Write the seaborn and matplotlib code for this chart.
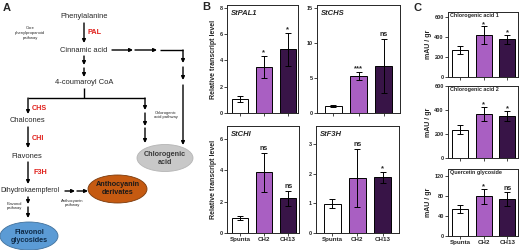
import matplotlib
matplotlib.use("Agg")
import matplotlib.pyplot as plt
from matplotlib.patches import Ellipse
import numpy as np
import pandas as pd
import seaborn as sns

# Data
groups = ["Spunta", "CH2", "CH13"]
colors = ["#ffffff", "#b14fd2", "#3c0b50"]

pal1_mean = [1.05, 3.5, 4.85]
pal1_err = [0.22, 0.85, 1.25]
pal1_sig = ["", "*", "*"]

chs_mean = [1.0, 5.35, 6.75]
chs_err = [0.2, 0.6, 3.9]
chs_sig = ["", "***", "ns"]

chi_mean = [0.95, 3.85, 2.2]
chi_err = [0.1, 1.25, 0.48]
chi_sig = ["", "ns", "ns"]

f3h_mean = [0.98, 1.85, 1.87]
f3h_err = [0.15, 0.99, 0.18]
f3h_sig = ["", "ns", "*"]

ca1_mean = [275, 420, 378]
ca1_err = [40, 88, 45]
ca1_sig = ["", "*", "*"]

ca2_mean = [235, 369, 349]
ca2_err = [37, 57, 42]
ca2_sig = ["", "*", "*"]

qg_mean = [54.5, 78.5, 73]
qg_err = [8, 15, 14]
qg_sig = ["", "*", "ns"]

sns.set_style("ticks")
plt.rcParams['font.family'] = ['Liberation Sans', 'DejaVu Sans']

W, H = 520, 250
fig = plt.figure(figsize=(5.2, 2.5), dpi=100)


def px_axes(x0, y0, x1, y1):
    return fig.add_axes([x0 / W, 1 - y1 / H, (x1 - x0) / W, (y1 - y0) / H])


def bar_panel(ax, mean, err, sig, title, ymax, yticks, xlim, italic=True,
              xlabels=False, ylabel=None):
    df = pd.DataFrame({"group": groups, "value": mean})
    sns.barplot(data=df, x="group", y="value", hue="group", palette=colors,
                order=groups, hue_order=groups, edgecolor="black",
                linewidth=0.7, width=0.68, legend=False, ax=ax)
    ax.errorbar(np.arange(3), mean, yerr=err, fmt="none", ecolor="black",
                elinewidth=0.7, capsize=2.5, capthick=0.7)
    for i, s in enumerate(sig):
        if s:
            if s == "ns":
                ax.text(i, mean[i] + err[i] + ymax * 0.01, s, ha="center",
                        va="bottom", fontsize=5, fontweight="bold")
            else:
                ax.text(i, mean[i] + err[i] + ymax * 0.03, s, ha="center",
                        va="center", fontsize=5.5, fontweight="bold")
    ax.set_ylim(0, ymax)
    ax.set_xlim(*xlim)
    ax.set_yticks(yticks)
    ax.set_xlabel("")
    ax.set_ylabel(ylabel if ylabel else "", fontsize=5, fontweight="bold",
                  labelpad=2)
    ax.tick_params(direction="out", length=2, width=0.6, labelsize=4, pad=1)
    for lab in ax.get_yticklabels():
        lab.set_fontweight("bold")
    ax.set_xticks(range(3))
    if xlabels:
        ax.set_xticklabels(groups, fontsize=4.5, fontweight="bold")
    else:
        ax.set_xticklabels([])
    for sp in ax.spines.values():
        sp.set_visible(True)
        sp.set_linewidth(0.7)
    ax.text(0.05 if italic else 0.03, 0.95 if italic else 0.99, title,
            transform=ax.transAxes, ha="left", va="top",
            fontsize=5.5 if italic else 3.9, fontweight="bold",
            style="italic" if italic else "normal")


# Panel B
ax = px_axes(227, 5, 298, 113)
bar_panel(ax, pal1_mean, pal1_err, pal1_sig, "StPAL1", 8.2, [0, 2, 4, 6, 8],
          (-0.54, 2.42), ylabel="Relative transcript level")
ax = px_axes(317, 5, 400, 113)
bar_panel(ax, chs_mean, chs_err, chs_sig, "StCHS", 15.5, [0, 5, 10, 15],
          (-0.65, 2.65))
ax = px_axes(227, 126, 299, 233)
bar_panel(ax, chi_mean, chi_err, chi_sig, "StCHI", 6.8, [0, 2, 4, 6],
          (-0.54, 2.45), xlabels=True, ylabel="Relative transcript level")
ax = px_axes(316, 126, 399, 233)
bar_panel(ax, f3h_mean, f3h_err, f3h_sig, "StF3H", 3.6, [0, 1, 2, 3],
          (-0.65, 2.65), xlabels=True)

# Panel C
ax = px_axes(448, 12, 518, 77)
bar_panel(ax, ca1_mean, ca1_err, ca1_sig, "Chlorogenic acid 1", 650,
          [0, 200, 400, 600], (-0.5, 2.45), italic=False, ylabel="mAU / gr")
ax = px_axes(448, 86, 518, 158)
bar_panel(ax, ca2_mean, ca2_err, ca2_sig, "Chlorogenic acid 2", 600,
          [0, 200, 400, 600], (-0.5, 2.45), italic=False, ylabel="mAU / gr")
ax = px_axes(448, 169, 518, 236)
bar_panel(ax, qg_mean, qg_err, qg_sig, "Quercetin glycoside", 133,
          [0, 40, 80, 120], (-0.5, 2.45), italic=False, xlabels=True,
          ylabel="mAU / gr")

# Panel A: pathway diagram
axa = fig.add_axes([0, 0, 200 / W, 1])
axa.set_xlim(0, 200)
axa.set_ylim(250, 0)
axa.axis("off")

arrow = dict(arrowstyle="-|>", lw=1.0, color="black", mutation_scale=5,
             shrinkA=0, shrinkB=0)


def arr(x0, y0, x1, y1):
    axa.annotate("", xy=(x1, y1), xytext=(x0, y0), arrowprops=arrow)


def line(xs, ys):
    axa.plot(xs, ys, color="black", lw=1.0, solid_capstyle="butt")


fs = 5.4
red = "#e0201b"
axa.text(84, 17, "Phenylalanine", ha="center", va="center", fontsize=fs)
axa.text(30, 33, "Core\nphenylpropanoid\npathway", ha="center", va="center",
         fontsize=3, linespacing=1.3)
arr(84, 23, 84, 43)
axa.text(88, 32, "PAL", color=red, fontweight="bold", fontsize=5.2,
         va="center")
axa.text(84, 50, "Cinnamic acid", ha="center", va="center", fontsize=fs)
arr(84, 56, 84, 65)
arr(84, 68, 84, 77)
axa.text(84, 83, "4-coumaroyl CoA", ha="center", va="center", fontsize=fs)
line([84, 84], [88, 98])
line([28, 145], [98, 98])
arr(28, 98, 28, 114)
axa.text(32, 108, "CHS", color=red, fontweight="bold", fontsize=5.2,
         va="center")
axa.text(27, 120, "Chalcones", ha="center", va="center", fontsize=fs)
arr(28, 127, 28, 148)
axa.text(32, 139, "CHI", color=red, fontweight="bold", fontsize=5.2,
         va="center")
axa.text(27, 156, "Flavones", ha="center", va="center", fontsize=fs)
arr(28, 162, 28, 184)
axa.text(33, 173, "F3H", color=red, fontweight="bold", fontsize=5.2,
         va="center")
axa.text(0.5, 191, "Dihydrokaempferol", ha="left", va="center", fontsize=5.0)
arr(65, 191, 75, 191)
arr(77, 191, 88, 191)
axa.text(72, 203, "Anthocyanin\npathway", ha="center", va="center",
         fontsize=3, linespacing=1.3)
arr(28, 197, 28, 204)
arr(28, 207, 28, 218)
axa.text(14, 206, "Flavonol\npathway", ha="center", va="center", fontsize=3,
         linespacing=1.3)

# chlorogenic acid branch
arr(145, 98, 145, 110)
arr(145, 113, 145, 126)
arr(145, 128, 145, 143)
axa.text(166, 115, "Chlorogenic\nacid pathway", ha="center", va="center",
         fontsize=3, linespacing=1.3)
arr(112, 50, 133, 50)
arr(135, 50, 157, 50)
line([160, 183], [50, 50])
arr(183, 50, 183, 63)
arr(183, 67, 183, 80)
arr(183, 85, 183, 145)

# ellipses
axa.add_patch(Ellipse((165, 158), 56, 27, facecolor="#c8c8c8",
                      edgecolor="#b5b5b5", lw=0.6))
axa.text(165, 158, "Chlorogenic\nacid", ha="center", va="center",
         fontsize=5.2, fontweight="bold", color="#3a3a3a", linespacing=1.2)
axa.add_patch(Ellipse((117.5, 189), 59, 28, facecolor="#c55a11",
                      edgecolor="#7a3a0c", lw=0.6))
axa.text(117.5, 189, "Anthocyanin\nderivates", ha="center", va="center",
         fontsize=5.2, fontweight="bold", color="#1a1a1a", linespacing=1.2)
axa.add_patch(Ellipse((29, 236), 58, 28, facecolor="#5b9bd5",
                      edgecolor="#41719c", lw=0.6))
axa.text(29, 236, "Flavonol\nglycosides", ha="center", va="center",
         fontsize=5.2, fontweight="bold", color="#0e2a47", linespacing=1.2)

# panel letters
fig.text(3 / W, 1 - 8 / H, "A", fontsize=8, fontweight="bold", va="center")
fig.text(202 / W, 1 - 7 / H, "B", fontsize=8, fontweight="bold", va="center")
fig.text(413 / W, 1 - 8 / H, "C", fontsize=8, fontweight="bold", va="center")

plt.savefig("out.png", dpi=100)
plt.close("all")
